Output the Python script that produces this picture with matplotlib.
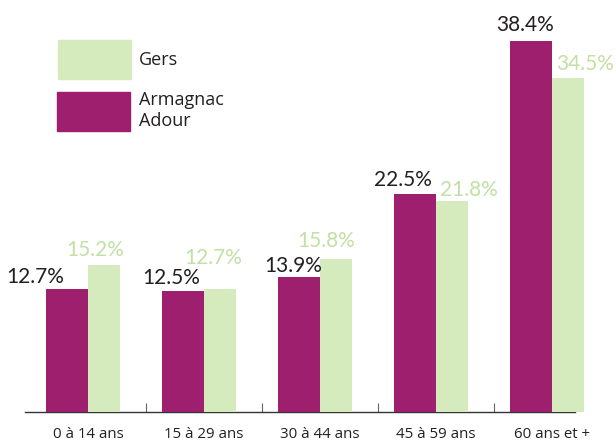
import matplotlib
matplotlib.use("Agg")
import matplotlib.pyplot as plt
from matplotlib.patches import Rectangle
import numpy as np

categories = ["0 à 14 ans", "15 à 29 ans", "30 à 44 ans", "45 à 59 ans", "60 ans et +"]
armagnac = [12.7, 12.5, 13.9, 22.5, 38.4]
gers = [15.2, 12.7, 15.8, 21.8, 34.5]
series_names = ["Gers", "Armagnac\nAdour"]

# style
PURPLE = "#9E1F6E"
GREEN = "#D5EABD"
GREEN_TXT = "#C3E0A4"
DARK = "#231F20"
W, H = 616, 441
# label offsets in pixels (x, y of text centre relative to bar top centre)
arm_off = [(-32, 12), (-12, 12.5), (-5.5, 11), (-12, 14), (-6, 16)]
gers_off = [(-8.5, 15), (-7, 31), (-9.5, 17.5), (16.5, 11), (17, 14.5)]

fig = plt.figure(figsize=(W / 100, H / 100), dpi=100)
ax = fig.add_axes([0, 0, 1, 1])
ax.set_facecolor("white")

px_per_unit_x = 116.0
px_per_pct = 9.66
base_px_from_bottom = 29.5
ax.set_xlim(-88 / px_per_unit_x, (W - 88) / px_per_unit_x)
ax.set_ylim(-base_px_from_bottom / px_per_pct, (H - base_px_from_bottom) / px_per_pct)

x = np.arange(len(categories))
pw = 42 / px_per_unit_x
gw = 32 / px_per_unit_x
ax.bar(x - pw, armagnac, width=pw, align="edge", color=PURPLE, zorder=3)
ax.bar(x, gers, width=gw, align="edge", color=GREEN, zorder=3)

num_font = dict(family="Lato", fontsize=15)
for i in range(len(categories)):
    dx, dy = arm_off[i]
    ax.annotate(f"{armagnac[i]:.1f}%", (x[i] - pw / 2, armagnac[i]), xytext=(dx, dy),
                textcoords="offset pixels", ha="center", va="center", color=DARK, **num_font)
    dx, dy = gers_off[i]
    ax.annotate(f"{gers[i]:.1f}%", (x[i] + gw / 2, gers[i]), xytext=(dx, dy),
                textcoords="offset pixels", ha="center", va="center", color=GREEN_TXT, **num_font)

# axis
for s in ["top", "right", "left"]:
    ax.spines[s].set_visible(False)
ax.spines["bottom"].set_position(("data", 0))
ax.spines["bottom"].set_bounds(-0.543, 4.2)
ax.spines["bottom"].set_color("#333333")
ax.spines["bottom"].set_linewidth(1.0)
ax.set_yticks([])
ax.set_xticks(x)
ax.set_xticklabels(categories, family="Open Sans", fontsize=10.8, color=DARK)
ax.tick_params(axis="x", which="major", length=0, pad=11.5)
ax.set_xticks(x[:-1] + 0.5, minor=True)
ax.tick_params(axis="x", which="minor", length=6.5, direction="in", color="#666666", width=0.8)

# legend (figure pixel coordinates)
def rect(x0, y0, x1, y1, c):
    fig.patches.append(Rectangle((x0 / W, 1 - y1 / H), (x1 - x0) / W, (y1 - y0) / H,
                                 transform=fig.transFigure, color=c, zorder=5))

rect(58, 40, 131, 79, GREEN)
rect(57, 92, 130, 131, PURPLE)
fig.text(139 / W, 1 - 60 / H, series_names[0], family="Open Sans", fontsize=13,
         color=DARK, va="center", ha="left")
fig.text(139 / W, 1 - 110.5 / H, series_names[1], family="Open Sans", fontsize=13,
         color=DARK, va="center", ha="left", linespacing=1.15)

fig.savefig("out.png", dpi=100, facecolor="white")
